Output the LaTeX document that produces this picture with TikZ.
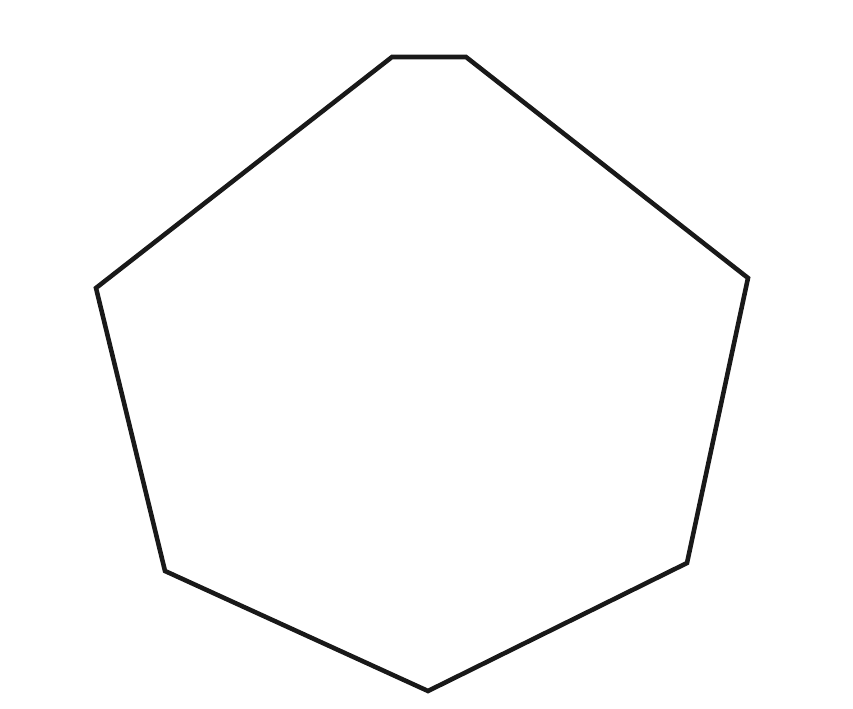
\documentclass[tikz,border=0pt]{standalone}
\usepackage{tikz}

\begin{document}
\begin{tikzpicture}
  \useasboundingbox (0,0) rectangle (17.06,14.18);
  \draw [line width=2.6pt,black!90] (7.84,13.04) -- (9.32,13.04) -- (14.96,8.62)
    -- (13.74,2.92) -- (8.56,0.36) -- (3.30,2.76) -- (1.92,8.42) -- cycle;
\end{tikzpicture}
\end{document}
